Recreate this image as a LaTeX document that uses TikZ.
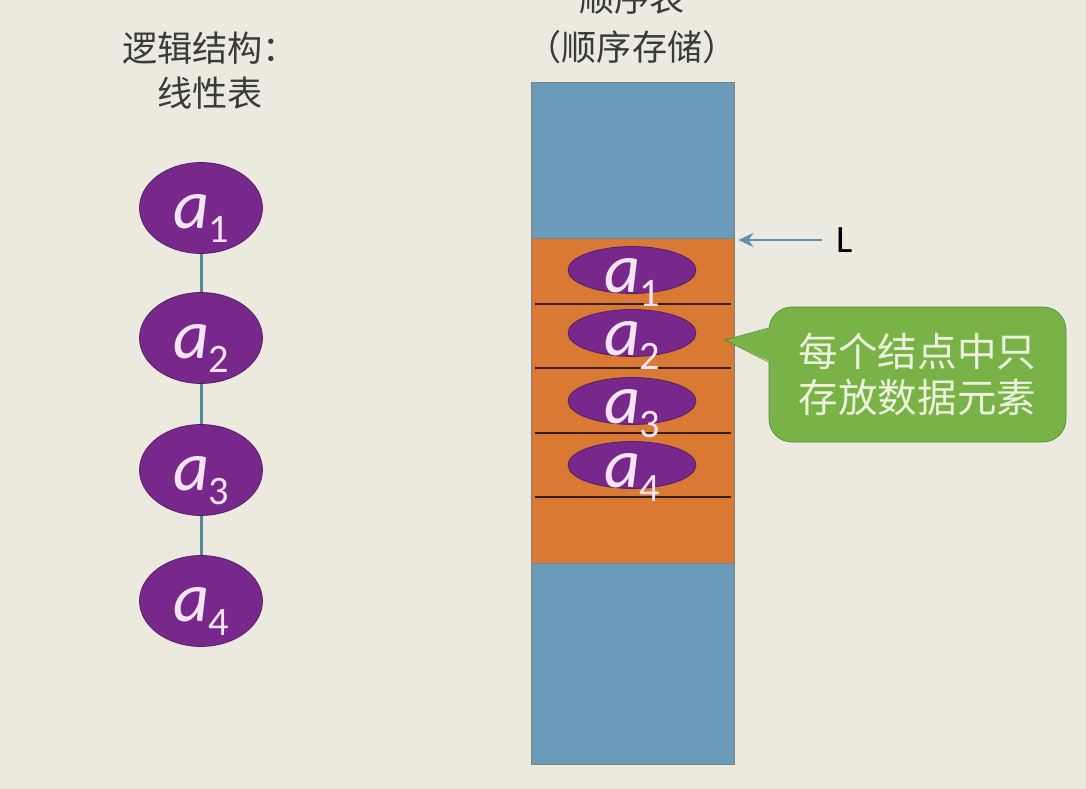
\documentclass[tikz,border=0pt]{standalone}
\usepackage{fontspec}
\usepackage{xcolor}
\usepackage{tikz}
\usetikzlibrary{shapes.geometric, arrows.meta, positioning}
\newfontfamily\cjk{Noto Sans CJK SC}
\newfontfamily\calib{Carlito}
\definecolor{slidebg}{RGB}{236, 234, 223}
\definecolor{titlegray}{RGB}{58, 58, 58}
\definecolor{elempurple}{RGB}{120, 40, 138}
\definecolor{elemedge}{RGB}{80, 30, 100}
\definecolor{elemtext}{RGB}{244, 228, 244}
\definecolor{linkteal}{RGB}{84, 136, 152}
\definecolor{storeblue}{RGB}{106, 155, 187}
\definecolor{usedorange}{RGB}{217, 121, 52}
\definecolor{slotline}{RGB}{60, 30, 15}
\definecolor{ptrblue}{RGB}{92, 142, 182}
\definecolor{notegreen}{RGB}{121, 179, 72}
\definecolor{noteedge}{RGB}{84, 140, 50}
\definecolor{notetext}{RGB}{236, 243, 220}
\newcommand\elsub[1]{a\kern-0.5pt\raisebox{-8.5pt}{\upshape\fontsize{23}{23}\selectfont #1}}

\begin{document}
\begin{tikzpicture}[x=0.2mm, y=-0.2mm,
    title/.style={align=center, text=titlegray},
    elem/.style={ellipse, draw=elemedge, fill=elempurple, minimum width=24.6mm, minimum height=18.2mm, inner sep=0pt},
    slot/.style={elem, minimum width=25.6mm, minimum height=9.4mm},
    elname/.style={anchor=base, inner sep=0pt, text=elemtext, font=\calib\itshape\fontsize{40}{40}\selectfont},
    link/.style={linkteal, line width=0.6mm},
    arrow/.style={-{Stealth[length=3mm, width=2.8mm]}, ptrblue, line width=0.4mm}
]
    \useasboundingbox (0,0) rectangle (1086,789);
    \clip (0,0) rectangle (1086,789);
    \fill[slidebg] (0,0) rectangle (1086,789);

    % Titles
    \node[title, font=\cjk\fontsize{20}{25.6}\selectfont] (logic) at (210,71) {逻辑结构：\\线性表};
    \node[title, font=\cjk\fontsize{20}{27.9}\selectfont] (seq) at (632,23) {顺序表\\（顺序存储）};

    % Linear list
    \foreach \i/\y in {1/208, 2/338, 3/470, 4/601} {
        \node[elem] (la\i) at (201,\y) {};
        \node[elname] at ([yshift=-4mm]la\i.center) {\elsub{\i}};
    }
    \draw[link] (la1) -- (la2);
    \draw[link] (la2) -- (la3);
    \draw[link] (la3) -- (la4);

    % Sequential storage
    \node[draw=gray, fill=storeblue, minimum width=40.6mm, minimum height=136.4mm, inner sep=0pt] (store) at (632.5,423) {};
    \node[draw=gray, fill=usedorange, minimum width=40.6mm, minimum height=65mm, inner sep=0pt] (used) at (632.5,400.5) {};
    \foreach \y in {304, 368, 433, 497}
        \draw[slotline, line width=0.35mm] (535,\y) -- (731,\y);
    \foreach \i/\y in {1/270, 2/333, 3/401, 4/465} {
        \node[slot] (ra\i) at (632,\y) {};
        \node[elname] at ([yshift=-4.4mm]ra\i.center) {\elsub{\i}};
    }

    % Head pointer
    \node[inner sep=0pt, font=\calib\fontsize{22}{22}\selectfont, text=black] (L) at (845,240) {L};
    \draw[arrow, shorten <=3mm, shorten >=0.8mm] (L.west) -- (L.west -| used.east);

    % Note
    \node[rounded corners=4.6mm, draw=noteedge, fill=notegreen, minimum width=59.4mm, minimum height=27mm,
          align=center, text=notetext, font=\cjk\fontsize{22.5}{26.2}\selectfont] (note) at (917.5,374.5) {每个结点中只\\存放数据元素};
    \coordinate (tip) at (725,340);
    \fill[notegreen] ([xshift=0.5mm, yshift=9.3mm]note.west) -- (tip) -- ([xshift=0.5mm, yshift=2.5mm]note.west) -- cycle;
    \draw[noteedge] ([yshift=9.3mm]note.west) -- (tip) -- ([yshift=2.5mm]note.west);
\end{tikzpicture}
\end{document}
